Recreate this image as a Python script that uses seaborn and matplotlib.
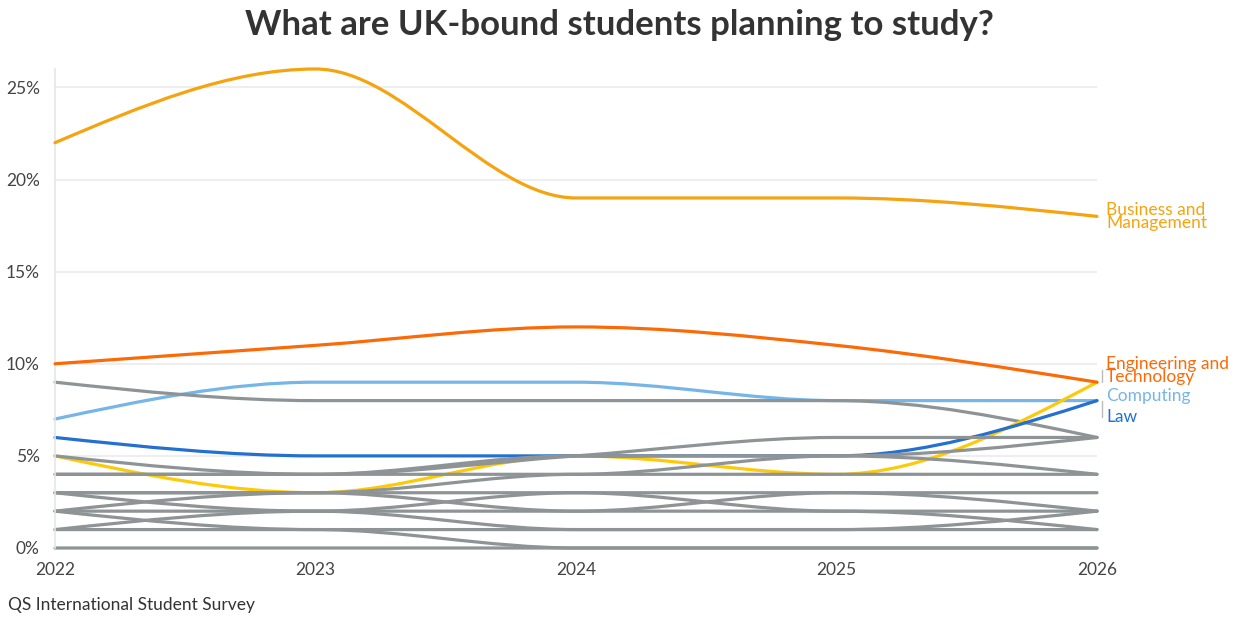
import matplotlib
matplotlib.use("Agg")

import matplotlib.pyplot as plt
import matplotlib.transforms as mtransforms
from matplotlib.path import Path
from matplotlib.patches import PathPatch
import numpy as np
import seaborn as sns


YEARS = [2022, 2023, 2024, 2025, 2026]

BUSINESS = [22, 26, 19, 19, 18]
ENGINEERING = [10, 11, 12, 11, 9]
COMPUTING = [7, 9, 9, 8, 8]
LAW = [6, 5, 5, 5, 8]
YELLOW_SUBJECT = [5, 3, 5, 4, 9]

# the unlabeled subjects, all drawn in grey
OTHER_SUBJECTS = [
    [9, 8, 8, 8, 6],
    [5, 4, 5, 6, 6],
    [4, 4, 5, 5, 6],
    [4, 4, 4, 5, 4],
    [3, 3, 4, 4, 4],
    [3, 3, 3, 2, 2],
    [2, 3, 2, 2, 1],
    [3, 2, 3, 3, 3],
    [2, 2, 2, 3, 2],
    [1, 2, 1, 1, 2],
    [2, 1, 1, 1, 1],
    [1, 1, 0, 0, 0],
    [0, 0, 0, 0, 0],
]

Y_TICKS = [0, 5, 10, 15, 20, 25]
TITLE = "What are UK-bound students planning to study?"
SOURCE = "QS International Student Survey"

GREY = "#8e9396"
C_BUSINESS = "#f5a30f"
C_ENGINEERING = "#fb6a07"
C_COMPUTING = "#76b5e8"
C_LAW = "#2470d0"
C_YELLOW = "#fdca0a"
TEXT = "#333333"

sns.set_theme(style="white")
plt.rcParams["font.family"] = ["Lato", "DejaVu Sans"]


def monotone_path(xs, ys):
    # same tangents as d3.curveMonotoneX
    xs = np.asarray(xs, dtype=float)
    ys = np.asarray(ys, dtype=float)
    h = np.diff(xs)
    s = np.diff(ys) / h
    n = len(xs)
    t = np.zeros(n)
    for i in range(1, n - 1):
        s0, s1 = s[i - 1], s[i]
        p = (s0 * h[i] + s1 * h[i - 1]) / (h[i - 1] + h[i])
        t[i] = (np.sign(s0) + np.sign(s1)) * min(abs(s0), abs(s1), 0.5 * abs(p))
    t[0] = (3 * s[0] - t[1]) / 2
    t[-1] = (3 * s[-1] - t[-2]) / 2

    verts = [(xs[0], ys[0])]
    codes = [Path.MOVETO]
    for i in range(n - 1):
        d = h[i] / 3
        verts += [(xs[i] + d, ys[i] + t[i] * d),
                  (xs[i + 1] - d, ys[i + 1] - t[i + 1] * d),
                  (xs[i + 1], ys[i + 1])]
        codes += [Path.CURVE4] * 3
    return Path(verts, codes)


def draw_line(ax, values, color, z):
    patch = PathPatch(monotone_path(YEARS, values), fill=False, edgecolor=color,
                      lw=2.3, capstyle="round", joinstyle="round", zorder=z, clip_on=False)
    ax.add_patch(patch)


fig = plt.figure(figsize=(12.38, 6.17), dpi=100)
ax = fig.add_axes([55 / 1238, 69 / 617, (1097 - 55) / 1238, (548 - 69) / 617])

ax.set_xlim(YEARS[0], YEARS[-1])
ax.set_ylim(0, 26)

for v in Y_TICKS:
    ax.axhline(v, color="#ebebeb", lw=1.2, zorder=0)

draw_line(ax, COMPUTING, C_COMPUTING, 2.0)
draw_line(ax, OTHER_SUBJECTS[0], GREY, 2.1)
draw_line(ax, YELLOW_SUBJECT, C_YELLOW, 2.2)
draw_line(ax, LAW, C_LAW, 2.3)
for series in OTHER_SUBJECTS[1:]:
    draw_line(ax, series, GREY, 2.5)
draw_line(ax, ENGINEERING, C_ENGINEERING, 3)
draw_line(ax, BUSINESS, C_BUSINESS, 3)

ax.set_xticks(YEARS)
ax.set_xticklabels([str(y) for y in YEARS])
ax.set_yticks(Y_TICKS)
ax.set_yticklabels([f"{v}%" for v in Y_TICKS])
ax.tick_params(axis="y", length=7, width=1.2, color="#ebebeb", pad=4, labelsize=12.5, labelcolor="#444444")
ax.tick_params(axis="x", length=5, width=1, color="#d0d0d0", pad=5, labelsize=12.5, labelcolor="#444444")

sns.despine(ax=ax, top=True, right=True, bottom=True, left=False)
ax.spines["left"].set_color("#e6e6e6")
ax.spines["left"].set_linewidth(1.2)
ax.grid(False)

# end labels, nudged where they would collide
end_labels = [
    ("Business and\nManagement", BUSINESS[-1], 18.0, C_BUSINESS),
    ("Engineering and\nTechnology", ENGINEERING[-1], 9.65, C_ENGINEERING),
    ("Computing", COMPUTING[-1], 8.25, C_COMPUTING),
    ("Law", LAW[-1], 7.1, C_LAW),
]
bracket_tf = ax.transData + mtransforms.ScaledTranslation(3.5 / 72, 0, fig.dpi_scale_trans)
for text, end_val, label_y, color in end_labels:
    ax.annotate(text, xy=(YEARS[-1], label_y), xytext=(6.5, 0), textcoords="offset points",
                ha="left", va="center", fontsize=12.5, color=color, linespacing=0.78,
                annotation_clip=False)
    lo, hi = sorted([end_val, label_y])
    if hi - lo < 0.3:
        ax.plot([YEARS[-1], YEARS[-1]], [end_val, end_val], color="#bbbbbb", lw=1,
                transform=ax.transData + mtransforms.ScaledTranslation(2 / 72, 0, fig.dpi_scale_trans),
                clip_on=False)
    else:
        ax.plot([YEARS[-1]] * 2, [lo, hi], color="#bbbbbb", lw=1, transform=bracket_tf, clip_on=False)

fig.text(0.5, 1 - 25 / 617, TITLE, ha="center", va="center", fontsize=25,
         fontweight="bold", color=TEXT)
fig.text(8 / 1238, 1 - 605 / 617, SOURCE, ha="left", va="center", fontsize=12.5, color=TEXT)

fig.savefig("out.png", dpi=100, facecolor="white")
plt.close(fig)
